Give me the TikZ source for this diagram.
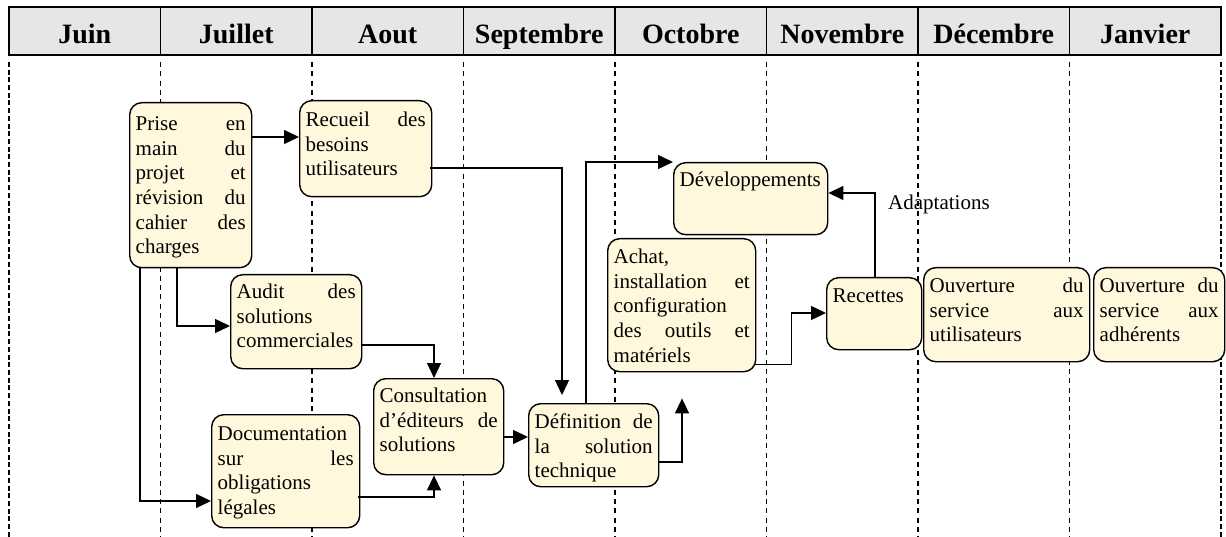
\documentclass[tikz,border=0pt]{standalone}
\usepackage{fontspec}
\setmainfont{Liberation Serif}
\usepackage{tikz}
\usetikzlibrary{arrows.meta,positioning,calc}

\definecolor{headgray}{RGB}{230,230,230}
\definecolor{cream}{RGB}{255,248,220}

\begin{document}
\begin{tikzpicture}[
            x = 1pt, y = -1pt, % pixel like coordinates
            > = {Triangle[length=15pt,width=14pt]}, % arrow head style
            month/.style = {draw, fill=headgray, line width=1.3pt, inner sep=0pt, outer sep=0pt,
                            minimum width=151.5pt, text height=37pt, text depth=11pt,
                            font=\fontsize{28}{30}\selectfont\bfseries},
            sep/.style = {line width=1.8pt, dash pattern=on 5pt off 4.3pt},
            edgesep/.style = {line width=2.6pt, dash pattern=on 5pt off 2.7pt},
            task/.style = {draw, fill=cream, line width=1.4pt, rounded corners=12pt,
                           anchor=north west, inner xsep=6pt, inner ysep=0pt,
                           text height=25pt, align=justify,
                           font=\fontsize{21}{24.6}\selectfont},
            link/.style = {->, line width=1.4pt} % connector style
        ]
	\useasboundingbox (0,0) rectangle (1226,537);

	% months
	\node[month, anchor=north west] (juin) at (9,7) {Juin};
	\node[month, right=0pt of juin] (juillet) {Juillet};
	\node[month, right=0pt of juillet] (aout) {Aout};
	\node[month, right=0pt of aout] (septembre) {Septembre};
	\node[month, right=0pt of septembre] (octobre) {Octobre};
	\node[month, right=0pt of octobre] (novembre) {Novembre};
	\node[month, right=0pt of novembre] (decembre) {Décembre};
	\node[month, right=0pt of decembre] (janvier) {Janvier};

	\draw[edgesep] ([yshift=-7pt]juin.south west) -- ++(0,480);
	\draw[sep] ([yshift=-7pt]juillet.south west) -- ++(0,480);
	\draw[sep] ([yshift=-7pt]aout.south west) -- ++(0,480);
	\draw[sep] ([yshift=-7pt]septembre.south west) -- ++(0,480);
	\draw[sep] ([yshift=-7pt]octobre.south west) -- ++(0,480);
	\draw[sep] ([yshift=-7pt]novembre.south west) -- ++(0,480);
	\draw[sep] ([yshift=-7pt]decembre.south west) -- ++(0,480);
	\draw[sep] ([yshift=-7pt]janvier.south west) -- ++(0,480);
	\draw[edgesep] ([yshift=-7pt]janvier.south east) -- ++(0,480);

	% tasks
	\node[task, text width=110pt, text height=28pt, text depth=137pt] (prise) at (129,102)
		{Prise \hfill en\\ main \hfill du\\ projet \hfill et\\ révision \hfill du\\ cahier \hfill des\\ charges};
	\node[task, text width=120pt, text height=26pt, text depth=70pt] (recueil) at (299,100)
		{Recueil \hfill des\\ besoins\\ utilisateurs};
	\node[task, text width=119pt, text height=24pt, text depth=70pt] (audit) at (230,274)
		{Audit \hfill des\\ solutions\\ commerciales};
	\node[task, text width=136pt, text height=26pt, text depth=87pt] (doc) at (211,414)
		{Documentation\\ sur \hfill les\\ obligations\\ légales};
	\node[task, text width=118pt, text height=24pt, text depth=72pt] (consult) at (373,378)
		{Consultation\\ d'éditeurs \hfill de\\ solutions};
	\node[task, text width=118pt, text depth=58pt] (def) at (528,403)
		{Définition \hfill de\\ la \hfill solution\\ technique};
	\node[task, text width=142pt, text height=24pt, text depth=48pt] (dev) at (673,162)
		{Développements};
	\node[task, text width=136pt, text depth=108pt] (achat) at (607,238)
		{Achat,\\ installation \hfill et\\ configuration\\ des \hfill outils \hfill et\\ matériels};
	\node[task, text width=83pt, text depth=47pt] (recettes) at (826,277) {Recettes};
	\node[task, text width=154pt, text depth=69pt] (ouvutil) at (923,267)
		{Ouverture \hfill du\\ service \hfill aux\\ utilisateurs};
	\node[task, text width=119pt, text depth=69pt] (ouvadh) at (1093,267)
		{Ouverture \hfill du\\ service \hfill aux\\ adhérents};

	\node[anchor=base west, inner sep=0pt, font=\fontsize{21}{24.6}\selectfont] (adapt) at (888,210) {Adaptations};

	% links
	\draw[link] ($(prise.north east)+(0,35)$) -- ($(recueil.north west)+(0,37)$);
	\draw[link] ($(prise.south west)+(48,0)$) |- ($(audit.north west)+(0,52)$);
	\draw[link] ($(prise.south west)+(11,0)$) |- ($(doc.north west)+(0,87)$);
	\draw[link] ($(recueil.north east)+(-2,68)$) -| ($(def.north west)+(34,-8)$);
	\draw[link] ($(audit.north east)+(0,71)$) -| ($(consult.north west)+(61,0)$);
	\draw[link] ($(doc.north east)+(-2,83)$) -| ($(consult.south west)+(61,0)$);
	\draw[link] ($(consult.north east)+(0,59)$) -- ($(def.north west)+(0,34)$);
	\draw[link] ($(def.north west)+(58,0)$) |- (dev.north west);
	\draw[link] ($(def.north east)+(0,59)$) -| ($(achat.south west)+(75,26)$);
	\draw[link] ($(achat.south east)+(-2,-8)$) -- ++(37,0) |- ($(recettes.north west)+(0,36)$);
	\draw[link] ($(recettes.north west)+(49,0)$) |- ($(dev.north east)+(0,31)$);

\end{tikzpicture}
\end{document}
